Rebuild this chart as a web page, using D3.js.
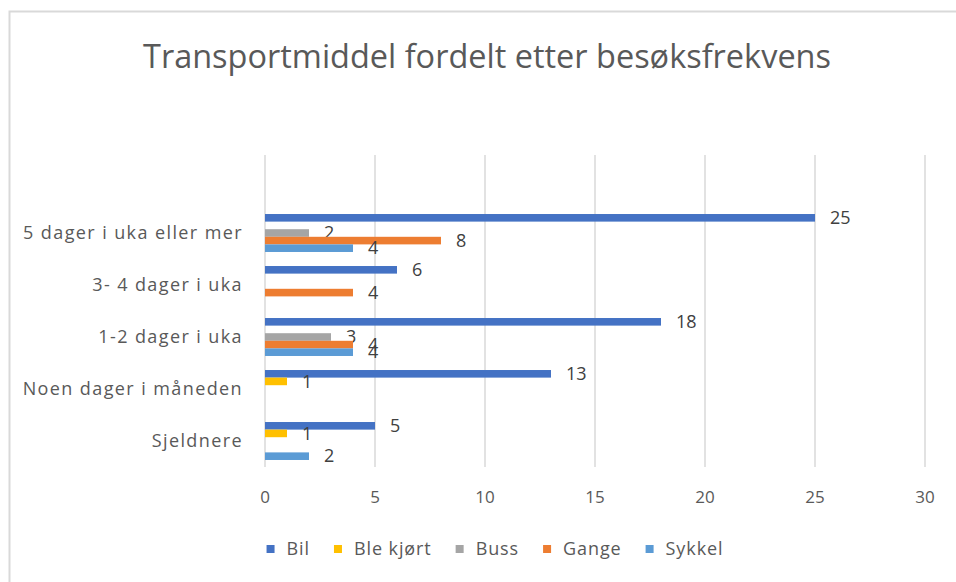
<!DOCTYPE html>
<html>
<head>
<meta charset="utf-8">
<script src="https://cdn.jsdelivr.net/npm/d3@7"></script>
<style>
  body { margin: 0; background: #fff; }
  text { font-family: "Open Sans", Lato, sans-serif; }
</style>
</head>
<body>
<div id="chart"></div>
<script>
// categories, top to bottom
var categories = ["5 dager i uka eller mer", "3- 4 dager i uka", "1-2 dager i uka", "Noen dager i måneden", "Sjeldnere"];

// series values (null = no answer)
var bil      = [25, 6, 18, 13, 5];
var bleKjort = [null, null, null, 1, 1];
var buss     = [2, null, 3, null, null];
var gange    = [8, 4, 4, null, null];
var sykkel   = [4, null, 4, null, 2];

var seriesNames = ["Bil", "Ble kjørt", "Buss", "Gange", "Sykkel"];
var seriesColors = ["#4472C4", "#FFC000", "#A5A5A5", "#ED7D31", "#5B9BD5"];
var xTicks = [0, 5, 10, 15, 20, 25, 30];

var series = [bil, bleKjort, buss, gange, sykkel].map(function(vals, i) {
    return { name: seriesNames[i], color: seriesColors[i], values: vals };
});

var W = 956, H = 582;
var plot = { left: 265, right: 925, top: 155, bottom: 467 };

var svg = d3.select("#chart").append("svg")
    .attr("width", W)
    .attr("height", H);

// chart frame
svg.append("rect")
    .attr("x", 9.5).attr("y", 11.5)
    .attr("width", W + 10).attr("height", H + 10)
    .attr("fill", "#fff")
    .attr("stroke", "#d9d9d9")
    .attr("stroke-width", 2);

// title
svg.append("text")
    .attr("x", 487).attr("y", 68)
    .attr("text-anchor", "middle")
    .attr("font-family", "Lato, sans-serif")
    .attr("font-size", 32)
    .attr("font-weight", 400)
    .attr("fill", "#595959")
    .attr("textLength", 688)
    .attr("lengthAdjust", "spacingAndGlyphs")
    .text("Transportmiddel fordelt etter besøksfrekvens");

var xScale = d3.scaleLinear()
    .domain([0, 30])
    .range([plot.left, plot.right]);

// one empty slot above the first category (as in the source chart)
var step = (plot.bottom - plot.top) / (categories.length + 1);
var yScale = d3.scaleBand()
    .domain(categories)
    .range([plot.top + step, plot.bottom])
    .paddingInner(0.27)
    .paddingOuter(0.135);

var ySub = d3.scaleBand()
    .domain(seriesNames)
    .range([0, yScale.bandwidth()]);

// gridlines
svg.append("g").selectAll("line")
    .data(xTicks)
    .enter().append("line")
    .attr("x1", function(d) { return xScale(d); })
    .attr("x2", function(d) { return xScale(d); })
    .attr("y1", plot.top)
    .attr("y2", plot.bottom)
    .attr("stroke", "#d9d9d9")
    .attr("stroke-width", 1.5);

// x tick labels
svg.append("g").selectAll("text")
    .data(xTicks)
    .enter().append("text")
    .attr("x", function(d) { return xScale(d); })
    .attr("y", 503)
    .attr("text-anchor", "middle")
    .attr("font-size", 17)
    .attr("fill", "#595959")
    .text(function(d) { return d; });

// category labels
svg.append("g").selectAll("text")
    .data(categories)
    .enter().append("text")
    .attr("x", 243)
    .attr("y", function(d) { return yScale(d) + yScale.bandwidth() / 2; })
    .attr("dy", "0.35em")
    .attr("text-anchor", "end")
    .attr("font-size", 18)
    .attr("letter-spacing", 1.4)
    .attr("fill", "#595959")
    .text(function(d) { return d; });

// bars
var groups = svg.append("g").selectAll("g")
    .data(series)
    .enter().append("g");

groups.selectAll("rect")
    .data(function(s) {
        return s.values.map(function(v, i) { return { s: s, cat: categories[i], v: v }; })
            .filter(function(d) { return d.v != null; });
    })
    .enter().append("rect")
    .attr("x", xScale(0))
    .attr("y", function(d) { return yScale(d.cat) + ySub(d.s.name); })
    .attr("width", function(d) { return xScale(d.v) - xScale(0); })
    .attr("height", ySub.bandwidth())
    .attr("fill", function(d) { return d.s.color; });

groups.selectAll("text")
    .data(function(s) {
        return s.values.map(function(v, i) { return { s: s, cat: categories[i], v: v }; })
            .filter(function(d) { return d.v != null; });
    })
    .enter().append("text")
    .attr("x", function(d) { return xScale(d.v) + 15; })
    .attr("y", function(d) { return yScale(d.cat) + ySub(d.s.name) + ySub.bandwidth() / 2; })
    .attr("dy", "0.35em")
    .attr("font-size", 18)
    .attr("fill", "#404040")
    .text(function(d) { return d.v; });

// legend
var legend = svg.append("g");
var lx = 0;
series.forEach(function(s) {
    var item = legend.append("g").attr("transform", "translate(" + lx + ",0)");
    item.append("rect")
        .attr("x", 0).attr("y", -4)
        .attr("width", 8).attr("height", 8)
        .attr("fill", s.color);
    var t = item.append("text")
        .attr("x", 20).attr("y", 0)
        .attr("dy", "0.35em")
        .attr("font-size", 18)
        .attr("letter-spacing", 0.9)
        .attr("fill", "#595959")
        .text(s.name);
    lx += 20 + t.node().getComputedTextLength() + 24;
});
lx -= 24;
legend.attr("transform", "translate(" + (495 - lx / 2) + ",549)");
</script>
</body>
</html>
